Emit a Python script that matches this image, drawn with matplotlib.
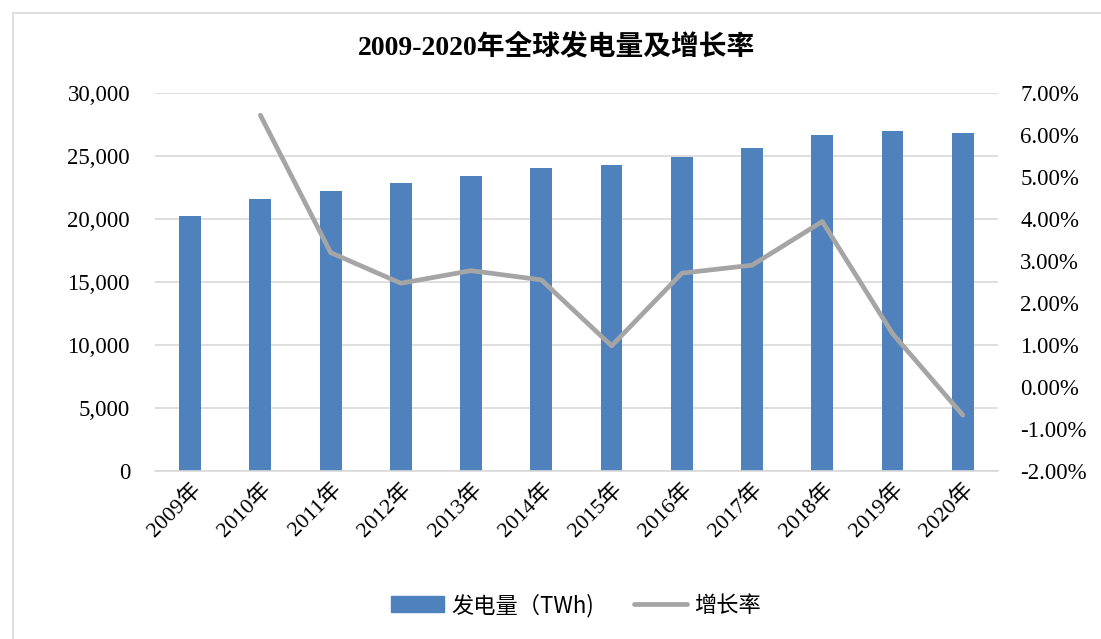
import matplotlib
matplotlib.use("Agg")
import matplotlib.pyplot as plt
from matplotlib.lines import Line2D
from matplotlib.ticker import FuncFormatter

# Data
years = ["2009年", "2010年", "2011年", "2012年", "2013年", "2014年",
         "2015年", "2016年", "2017年", "2018年", "2019年", "2020年"]
generation = [20240, 21590, 22250, 22830, 23410, 24020,
              24260, 24920, 25660, 26670, 27010, 26830]
growth = [6.47, 3.20, 2.47, 2.77, 2.55, 0.98, 2.71, 2.90, 3.94, 1.27, -0.67]

serif_cjk = ["Liberation Serif", "Noto Sans CJK SC"]
bar_color = "#4F81BD"
line_color = "#A5A5A5"
grid_color = "#D9D9D9"

fig = plt.figure(figsize=(11.01, 6.39), dpi=100)
ax = fig.add_axes([0.1408, 0.2629, 0.7656, 0.5916])
ax2 = ax.twinx()

x = list(range(len(years)))
ax.bar(x, generation, width=0.31, color=bar_color, zorder=2)
ax2.plot(x[1:], growth, color=line_color, lw=3.4, solid_capstyle="round", zorder=3)

ax.set_xlim(-0.5, len(years) - 0.5)
ax.set_ylim(0, 30000)
ax.set_yticks(range(0, 30001, 5000))
ax.yaxis.set_major_formatter(FuncFormatter(lambda v, p: f"{int(v):,}"))
ax2.set_ylim(-2, 7)
ax2.set_yticks(range(-2, 8))
ax2.yaxis.set_major_formatter(FuncFormatter(lambda v, p: f"{v:.2f}%"))

ax.grid(axis="y", color=grid_color, lw=1.2, zorder=0)
ax.set_axisbelow(True)
for a in (ax, ax2):
    for s in a.spines.values():
        s.set_visible(False)
    a.tick_params(length=0)
ax.spines["bottom"].set_visible(True)
ax.spines["bottom"].set_color(grid_color)
ax.spines["bottom"].set_linewidth(1.2)

ax.set_xticks(x)
ax.set_xticklabels(years, rotation=45, ha="right", rotation_mode="anchor",
                   family=serif_cjk, fontsize=16)
ax.tick_params(axis="x", pad=6)
ax.tick_params(axis="y", pad=18)
ax2.tick_params(axis="y", pad=16)
for lab in ax.get_yticklabels() + ax2.get_yticklabels():
    lab.set_family(serif_cjk)
    lab.set_fontsize(16.5)

fig.text(0.505, 0.926, "2009-2020年全球发电量及增长率", ha="center", va="center",
         family=serif_cjk, fontsize=20, fontweight="bold")

handles = [plt.Rectangle((0, 0), 1, 1, color=bar_color),
           Line2D([0], [0], color=line_color, lw=3.4, solid_capstyle="round")]
fig.legend(handles, ["发电量（TWh)", "增长率"], loc="center", bbox_to_anchor=(0.523, 0.053),
           ncol=2, frameon=False, prop={"family": "Noto Sans CJK SC", "size": 16},
           handlelength=2.4, columnspacing=1.8, handletextpad=0.3)

# light frame around the chart area
frame = plt.Rectangle((13 / 1101, -0.05), 1.0, 1 - 13 / 639 + 0.05, transform=fig.transFigure,
                      fill=False, edgecolor=grid_color, lw=1.2)
fig.patches.append(frame)

fig.savefig("out.png", dpi=100)
